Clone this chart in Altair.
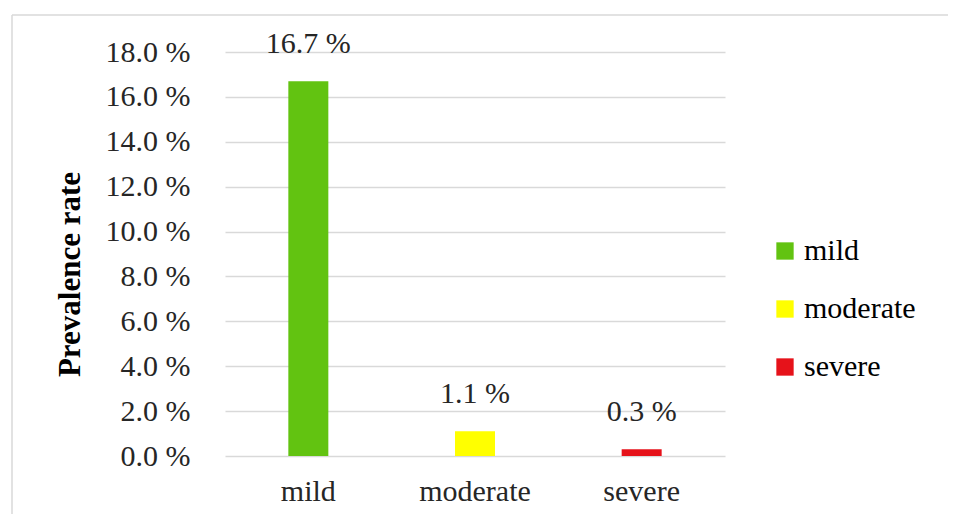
import altair as alt
import pandas as pd

categories = ["mild", "moderate", "severe"]
values = [16.7, 1.1, 0.3]
labels = ["16.7 %", "1.1 %", "0.3 %"]
colors = ["#62c311", "#ffff00", "#e6121a"]
y_ticks = [0, 2, 4, 6, 8, 10, 12, 14, 16, 18]

df = pd.DataFrame({"category": categories, "value": values, "label": labels})

FONT = "Liberation Serif"
FS = 30

x_axis = alt.Axis(labelAngle=0, labelFontSize=FS, labelFont=FONT,
                  labelColor="#262626", ticks=False, domain=False,
                  grid=False, labelPadding=20)
y_axis = alt.Axis(values=y_ticks, labelExpr="format(datum.value, '.1f') + ' %'",
                  labelFontSize=FS, labelFont=FONT, labelColor="#262626",
                  ticks=False, domain=False, labelPadding=35,
                  gridColor="#d9d9d9", gridWidth=1.5,
                  title="Prevalence rate", titleFont=FONT, titleFontSize=31,
                  titleFontWeight="bold", titleColor="#000000",
                  titleX=-155, titleY=222, titleAngle=-90,
                  titleAlign="center", titleBaseline="middle")
x_scale = alt.Scale(paddingInner=0.76, paddingOuter=0.38)
y_scale = alt.Scale(domain=[0, 18])

bars = alt.Chart(df).mark_bar().encode(
    x=alt.X("category:N", sort=categories, title=None, scale=x_scale, axis=x_axis),
    y=alt.Y("value:Q", scale=y_scale, axis=y_axis),
    color=alt.Color("category:N", sort=categories,
                    scale=alt.Scale(domain=categories, range=colors),
                    legend=alt.Legend(title=None, orient="none", legendX=545, legendY=184,
                                      symbolType="square", symbolSize=300,
                                      symbolStrokeWidth=0, labelFont=FONT,
                                      labelFontSize=FS, labelColor="#000000",
                                      rowPadding=28, labelOffset=4)),
)

text = alt.Chart(df).mark_text(font=FONT, fontSize=FS, color="#262626",
                               baseline="middle", dy=-37).encode(
    x=alt.X("category:N", sort=categories, title=None, scale=x_scale, axis=x_axis),
    y=alt.Y("value:Q", scale=y_scale, axis=y_axis),
    text="label:N",
)

border_df = pd.DataFrame({"k": [0]})
top_line = alt.Chart(border_df).mark_rule(color="#d9d9d9", strokeWidth=1.5).encode(
    x=alt.value(-213), x2=alt.value(740), y=alt.value(-37))
left_line = alt.Chart(border_df).mark_rule(color="#d9d9d9", strokeWidth=1.5).encode(
    x=alt.value(-213), y=alt.value(-37), y2=alt.value(480))

chart = alt.layer(top_line, left_line, bars, text).properties(
    width=500, height=404,
    padding={"left": 217, "top": 44, "right": 223, "bottom": 58},
    autosize=alt.AutoSizeParams(type="none"),
).configure(background="white", font=FONT).configure_view(stroke=None).configure_axis(
    labelFont=FONT, titleFont=FONT).configure_legend(labelFont=FONT)

chart.save("out.html", embed_options={"renderer": "svg", "actions": False})
